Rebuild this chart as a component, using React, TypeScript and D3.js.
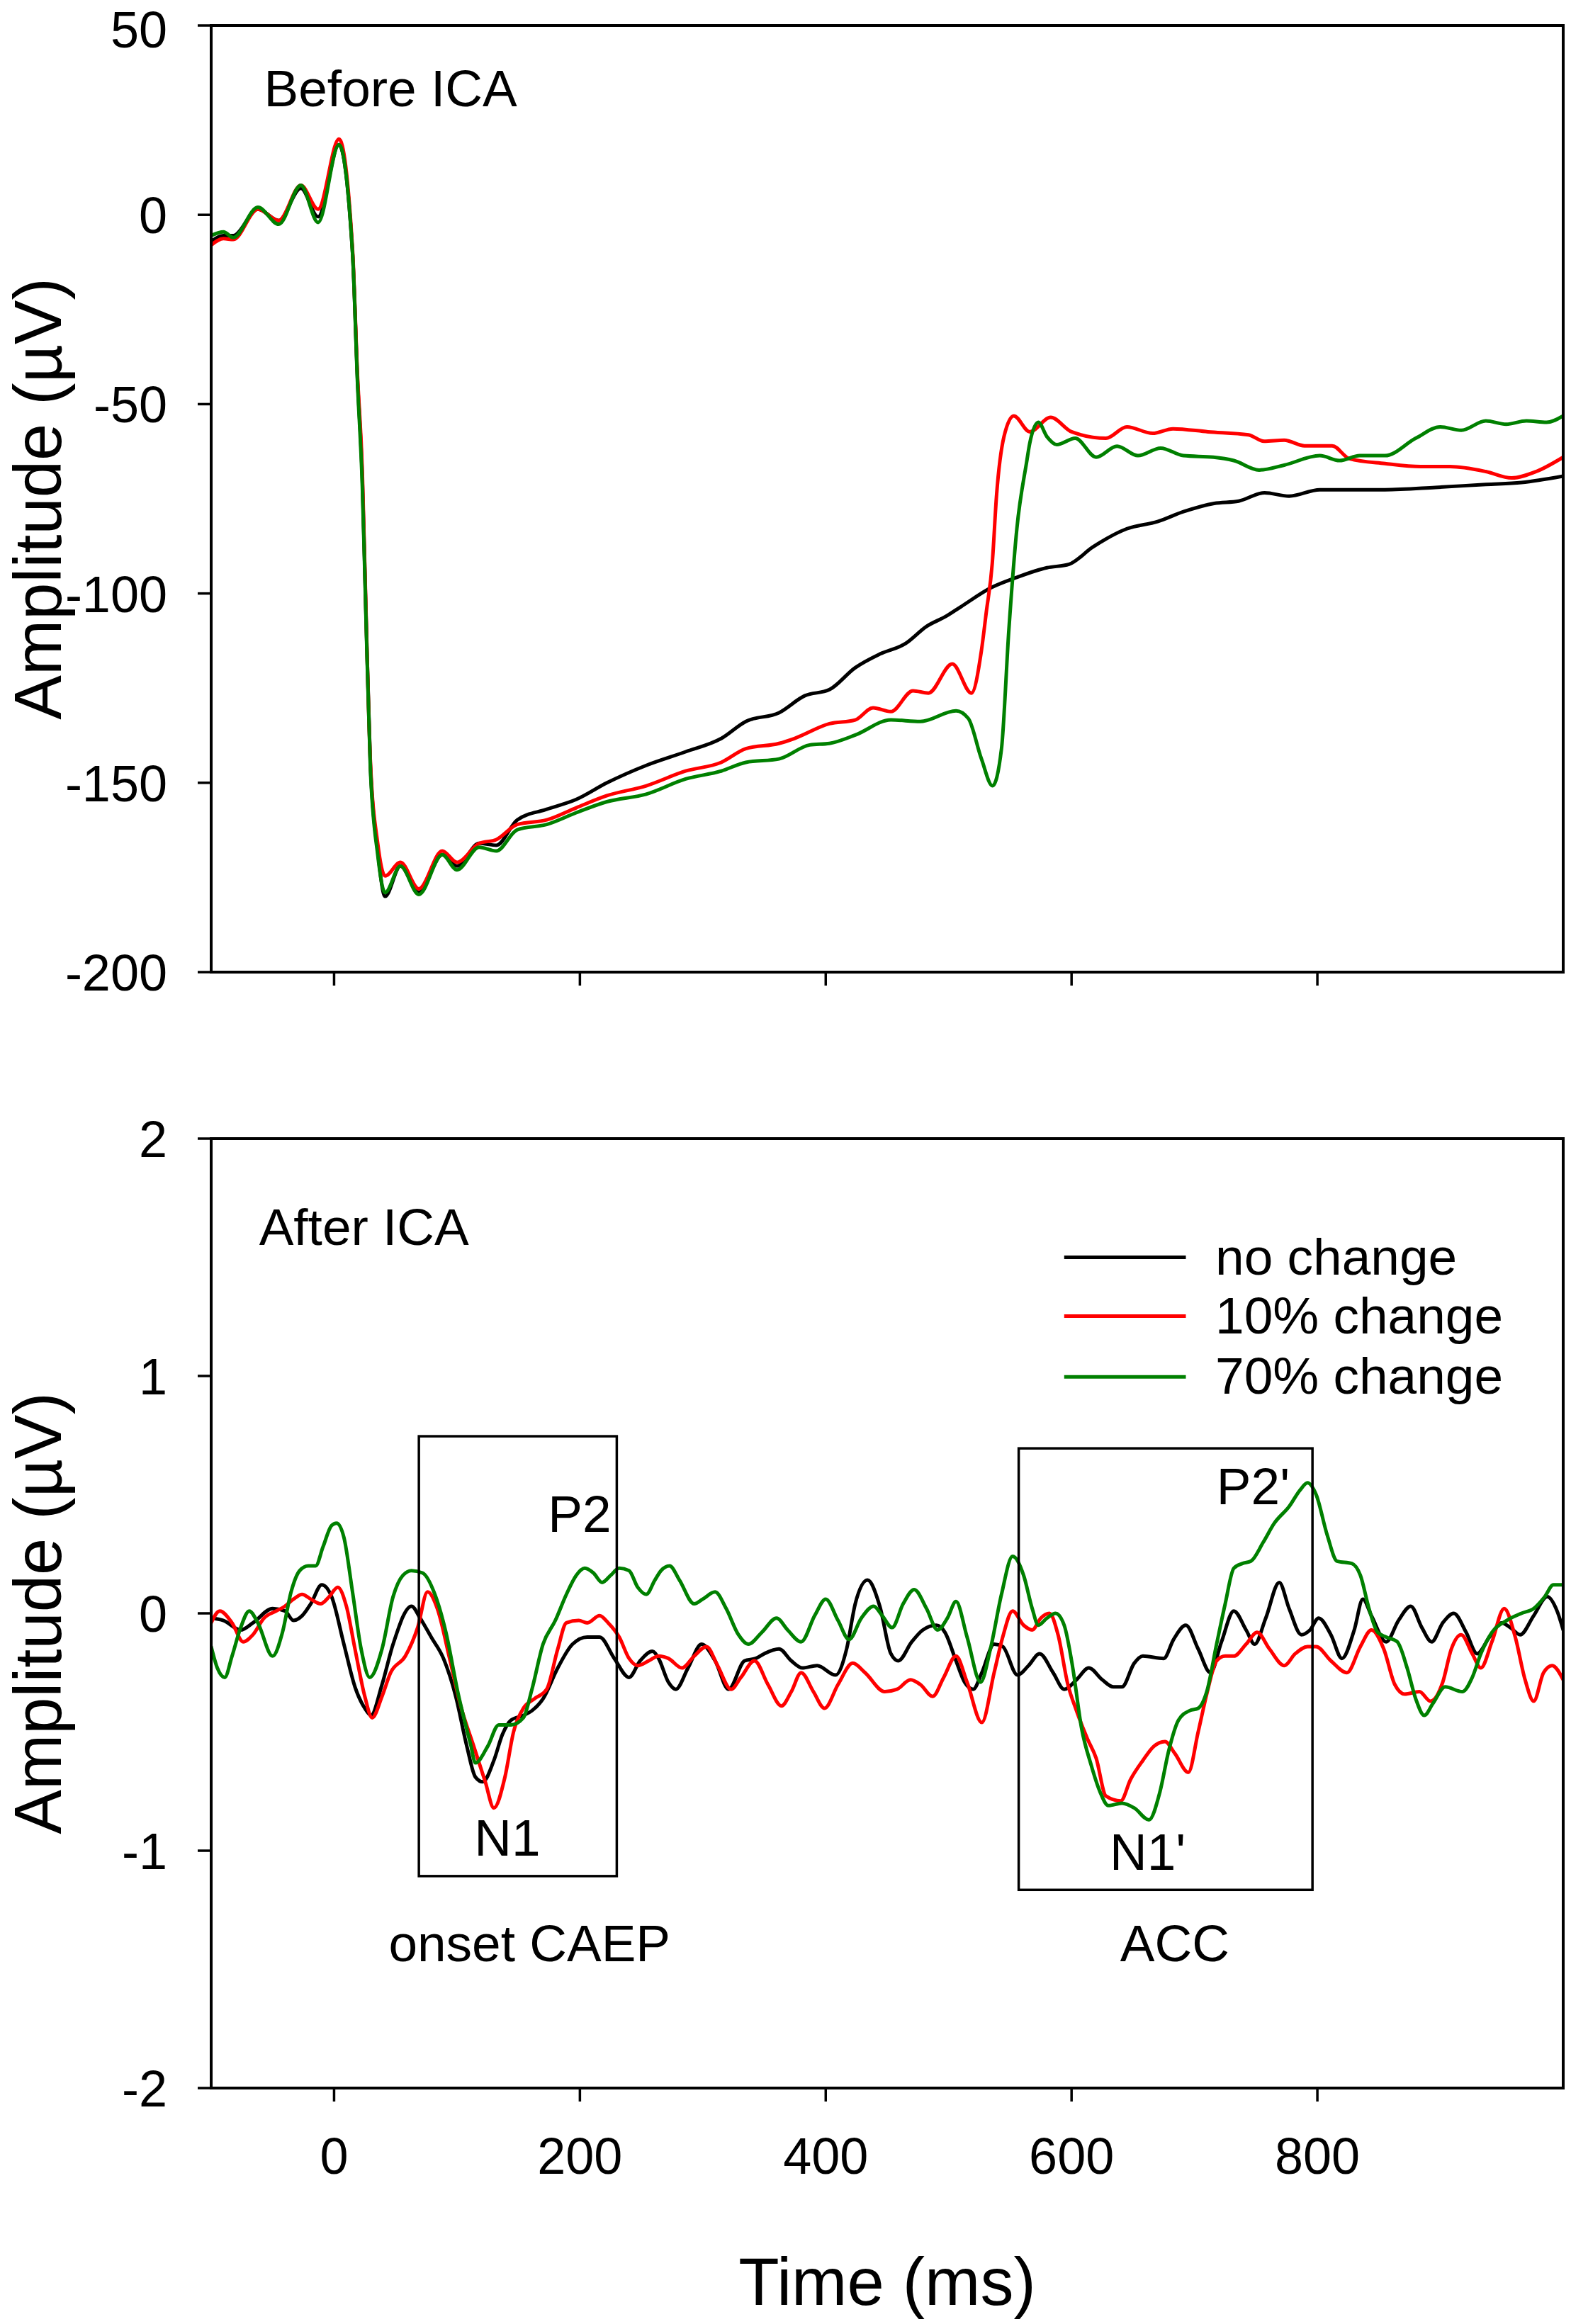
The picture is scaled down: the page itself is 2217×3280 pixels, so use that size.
import React from 'react';
import * as d3 from 'd3';

type Pt = [number, number];

// ---- data: [time (ms), amplitude (µV)] ----
const beforeNoChange: Pt[] = [
  [-100, -7], [-90, -5.5], [-82, -5.5], [-62, 1.5], [-45, -1.5], [-27, 7], [-13, -0.5], [4, 18.5],
  [15, -10], [19, -43], [23, -70], [25.5, -100], [29.5, -145], [35.5, -168], [41.5, -180], [54, -172],
  [69, -179], [88, -169], [100, -172], [118, -166], [132, -166.5], [149, -159.8], [173, -157],
  [197, -154.4], [222, -150], [254, -145.4], [286, -141.8], [315, -138.3], [335, -133.8], [362, -131.5],
  [383, -127], [403, -125.4], [424, -119.6], [444, -116], [465, -113.2], [482, -108.7], [498, -106],
  [510, -103.5], [535, -98.4], [555, -95.8], [580, -93.2], [598, -92.3], [617, -87.8], [645, -82.9],
  [670, -81], [691, -78.4], [716, -76.2], [736, -75.6], [757, -73.4], [777, -74.3], [802, -72.6],
  [855, -72.6], [896, -72], [937, -71.2], [966, -70.7], [1000, -69],
];

const beforeTen: Pt[] = [
  [-100, -8], [-90, -6.3], [-82, -6.5], [-62, 1.5], [-45, -1.5], [-27, 7.8], [-13, 1.5], [4, 20],
  [15, -9], [19, -42], [23, -68], [25.5, -99], [29.5, -144], [35.5, -166], [41.5, -174.6], [54, -171],
  [69, -178], [88, -168], [100, -171], [118, -166], [132, -165], [149, -161], [173, -159.8],
  [197, -156.6], [222, -153.4], [254, -150.8], [286, -146.9], [315, -144.6], [335, -141], [362, -139.6],
  [374.5, -138.3], [403, -134.4], [424, -133.4], [438.5, -130.2], [453, -131.2], [471, -125.7],
  [483.5, -126.3], [503, -118.6], [518.5, -126.3], [526.7, -115], [530.6, -105], [535.5, -92],
  [539, -74], [545, -58.6], [553, -53.1], [566, -57.3], [583, -53.5], [600, -57.3], [628, -59],
  [645, -56], [666, -57.7], [682.5, -56.5], [711, -57.3], [744, -58.1], [756.6, -59.8], [773, -59.5],
  [789.5, -61], [812, -61], [826, -64.4], [855, -65.7], [884, -66.5], [908, -66.5], [937, -67.8],
  [958, -69.5], [978, -67.8], [1000, -64],
];

const beforeSeventy: Pt[] = [
  [-100, -5.5], [-90, -4.5], [-82, -6], [-62, 2], [-45, -2.5], [-27, 7.8], [-13, -2], [4, 18.5],
  [15, -10], [19, -44], [23, -72], [25.5, -101], [29.5, -146], [35.5, -169], [41.5, -179], [54, -172],
  [69, -179.5], [88, -169], [100, -173], [118, -167], [132, -168], [149, -162.4], [173, -161],
  [197, -157.9], [222, -155], [254, -153], [286, -149], [315, -146.9], [335, -144.6], [362, -143.7],
  [387, -140], [403, -139.6], [424, -137.4], [453, -133.4], [477, -133.8], [506, -131], [516, -133],
  [526.7, -143.7], [535.7, -150.8], [543, -141], [549, -109.6], [555.5, -82.9], [563.6, -65],
  [566, -60.3], [573, -54.8], [580, -58.6], [588, -60.7], [603, -59], [620, -64], [637, -61.1],
  [654, -63.6], [672.5, -61.6], [691, -63.6], [715.5, -64], [732, -64.9], [752.6, -67.4], [773, -66.1],
  [802, -63.6], [818, -64.9], [834.5, -63.6], [855, -63.6], [880, -59], [900, -56], [917, -56.9],
  [937, -54.4], [953.6, -55.3], [970, -54.4], [986.5, -54.8], [1000, -53.1],
];

const afterNoChange: Pt[] = [
  [-100, -0.02], [-90, -0.03], [-76, -0.07], [-66, -0.04], [-50, 0.02], [-40, 0.01], [-33, -0.03],
  [-26, -0.01], [-19, 0.04], [-10, 0.12], [-2, 0.07], [8, -0.13], [17, -0.31], [25, -0.40], [30, -0.43],
  [39, -0.30], [48, -0.13], [63, 0.03], [70, -0.02], [79, -0.10], [89, -0.19], [99, -0.35], [108, -0.56],
  [115, -0.69], [121, -0.71], [130, -0.62], [137, -0.51], [144, -0.45], [154, -0.43], [161, -0.41],
  [170, -0.36], [182, -0.23], [194, -0.13], [206, -0.10], [216, -0.10], [228, -0.19], [240, -0.27],
  [249, -0.20], [259, -0.16], [264, -0.19], [272, -0.29], [278, -0.32], [288, -0.23], [299, -0.13],
  [310, -0.20], [321, -0.32], [334, -0.20], [343, -0.19], [350, -0.17], [362, -0.15], [372, -0.20],
  [381, -0.23], [393, -0.22], [408, -0.26], [417, -0.15], [424, 0.04], [434, 0.14], [444, 0.03],
  [453, -0.17], [459, -0.20], [470, -0.12], [479, -0.07], [490, -0.05], [497, -0.08], [506, -0.20],
  [513, -0.29], [520, -0.32], [527, -0.25], [537, -0.13], [544, -0.14], [556, -0.26], [565, -0.22],
  [574, -0.17], [585, -0.25], [594, -0.32], [604, -0.28], [614, -0.23], [625, -0.28], [634, -0.31],
  [641, -0.31], [651, -0.21], [658, -0.18], [675, -0.19], [683, -0.11], [693, -0.05], [703, -0.15],
  [713, -0.25], [722, -0.12], [732, 0.01], [742, -0.07], [749, -0.13], [758, -0.02], [769, 0.13],
  [777, 0.02], [787, -0.09], [794, -0.07], [801, -0.02], [811, -0.09], [820, -0.19], [830, -0.07],
  [837, 0.06], [844, -0.01], [856, -0.12], [866, -0.03], [876, 0.03], [885, -0.06], [893, -0.12],
  [902, -0.04], [911, 0.0], [921, -0.08], [930, -0.17], [940, -0.10], [950, -0.04], [957, -0.06],
  [965, -0.09], [976, -0.01], [987, 0.07], [995, 0.01], [1000, -0.07],
];

const afterTen: Pt[] = [
  [-100, -0.04], [-93, 0.01], [-83, -0.04], [-74, -0.12], [-66, -0.09], [-57, -0.02], [-47, 0.01],
  [-40, 0.03], [-33, 0.06], [-26, 0.08], [-19, 0.06], [-11, 0.04], [-4, 0.07], [3, 0.11], [10, 0.03],
  [17, -0.15], [25, -0.35], [31, -0.44], [39, -0.35], [46, -0.25], [58, -0.18], [68, -0.06], [76, 0.09],
  [84, 0.02], [94, -0.19], [103, -0.39], [113, -0.55], [123, -0.71], [130, -0.82], [139, -0.69],
  [146, -0.50], [154, -0.40], [163, -0.36], [173, -0.32], [182, -0.15], [189, -0.04], [199, -0.03],
  [206, -0.04], [216, -0.01], [223, -0.04], [232, -0.10], [240, -0.19], [247, -0.22], [256, -0.20],
  [264, -0.18], [272, -0.19], [283, -0.23], [293, -0.18], [303, -0.14], [312, -0.22], [323, -0.32],
  [331, -0.27], [342, -0.20], [353, -0.30], [364, -0.39], [372, -0.33], [380, -0.25], [390, -0.33],
  [399, -0.40], [410, -0.30], [422, -0.21], [432, -0.25], [448, -0.33], [458, -0.32], [469, -0.28],
  [477, -0.30], [487, -0.35], [496, -0.27], [506, -0.18], [515, -0.29], [527, -0.46], [537, -0.25],
  [544, -0.10], [552, 0.01], [561, -0.05], [568, -0.07], [575, -0.02], [582, 0.0], [589, -0.09],
  [597, -0.30], [604, -0.41], [613, -0.53], [620, -0.61], [628, -0.77], [640, -0.79], [648, -0.70],
  [658, -0.62], [667, -0.56], [676, -0.54], [684, -0.59], [695, -0.67], [703, -0.50], [710, -0.34],
  [718, -0.20], [725, -0.18], [732, -0.18], [742, -0.13], [751, -0.08], [761, -0.15], [773, -0.22],
  [782, -0.17], [792, -0.14], [799, -0.14], [811, -0.20], [824, -0.25], [835, -0.14], [844, -0.07],
  [854, -0.15], [863, -0.30], [871, -0.34], [883, -0.33], [892, -0.37], [902, -0.29], [909, -0.15],
  [917, -0.09], [926, -0.17], [933, -0.23], [942, -0.12], [952, 0.02], [961, -0.10], [969, -0.28],
  [976, -0.37], [984, -0.25], [991, -0.22], [1000, -0.28],
];

const afterSeventy: Pt[] = [
  [-100, -0.14], [-95, -0.23], [-89, -0.27], [-83, -0.18], [-76, -0.06], [-69, 0.01], [-62, -0.04],
  [-50, -0.18], [-42, -0.08], [-35, 0.09], [-28, 0.18], [-21, 0.20], [-15, 0.20], [-9, 0.28], [-2, 0.37],
  [2, 0.38], [8, 0.32], [15, 0.09], [22, -0.15], [29, -0.27], [39, -0.15], [48, 0.07], [56, 0.16],
  [63, 0.18], [72, 0.17], [82, 0.08], [91, -0.08], [101, -0.34], [111, -0.55], [115, -0.63], [125, -0.56],
  [134, -0.47], [144, -0.47], [154, -0.44], [161, -0.32], [170, -0.13], [180, -0.03], [189, 0.08],
  [197, 0.16], [204, 0.19], [211, 0.17], [218, 0.13], [225, 0.16], [232, 0.19], [240, 0.18], [247, 0.11],
  [254, 0.08], [261, 0.14], [266, 0.18], [273, 0.20], [281, 0.14], [293, 0.04], [300, 0.06], [310, 0.09],
  [319, 0.02], [329, -0.09], [337, -0.13], [348, -0.08], [360, -0.02], [369, -0.07], [380, -0.12],
  [391, -0.01], [400, 0.06], [410, -0.03], [419, -0.11], [429, -0.02], [439, 0.03], [446, -0.01],
  [454, -0.06], [463, 0.04], [472, 0.10], [482, 0.02], [491, -0.07], [499, -0.02], [506, 0.05],
  [515, -0.10], [526, -0.29], [534, -0.15], [543, 0.08], [552, 0.24], [561, 0.16], [568, 0.02],
  [573, -0.05], [580, -0.02], [587, 0.0], [594, -0.05], [601, -0.23], [608, -0.48], [616, -0.64],
  [623, -0.75], [630, -0.81], [641, -0.80], [651, -0.82], [663, -0.87], [672, -0.75], [679, -0.58],
  [687, -0.45], [696, -0.41], [703, -0.40], [710, -0.33], [718, -0.13], [725, 0.04], [732, 0.19],
  [739, 0.21], [746, 0.22], [756, 0.30], [765, 0.38], [777, 0.45], [786, 0.52], [792, 0.55], [799, 0.50],
  [808, 0.33], [816, 0.22], [828, 0.21], [835, 0.16], [842, 0.02], [849, -0.08], [856, -0.10],
  [865, -0.12], [873, -0.23], [880, -0.36], [887, -0.43], [894, -0.38], [904, -0.31], [918, -0.33],
  [926, -0.27], [933, -0.17], [942, -0.08], [954, -0.03], [966, 0.0], [976, 0.02], [985, 0.07],
  [992, 0.12], [1000, 0.12],
];

const seriesNames = ['no change', '10% change', '70% change'];
const seriesColors = ['#000000', '#ff0000', '#008000'];

const timeTicks = [0, 200, 400, 600, 800];
const beforeTicks = [50, 0, -50, -100, -150, -200];
const afterTicks = [2, 1, 0, -1, -2];

// peak windows drawn in the "after" panel: [t0, t1, vTop, vBottom]
const peakBoxes: [number, number, number, number][] = [
  [69, 230, 0.746, -1.107],
  [557, 796, 0.695, -1.165],
];

// labels in the "after" panel: [text, t, v, anchor]
const afterLabels: [string, number, number, string][] = [
  ['After ICA', -61, 1.552, 'start'],
  ['P2', 174, 0.343, 'start'],
  ['N1', 114, -1.021, 'start'],
  ["P2'", 718, 0.46, 'start'],
  ["N1'", 631, -1.08, 'start'],
  ['onset CAEP', 159, -1.466, 'middle'],
  ['ACC', 684, -1.466, 'middle'],
];

const legendRows = [1.5, 1.252, 0.996];

// ---- layout ----
const W = 2217;
const H = 3280;
const left = 298;
const right = 2206;
const FONT = "'Liberation Sans', Arial, Helvetica, sans-serif";

const x = d3.scaleLinear().domain([-100, 1000]).range([left, right]);

interface PanelProps {
  top: number;
  bottom: number;
  domain: [number, number];
  ticks: number[];
  series: Pt[][];
  showXLabels: boolean;
  children?: (y: d3.ScaleLinear<number, number>) => React.ReactNode;
}

const Panel: React.FC<PanelProps> = ({ top, bottom, domain, ticks, series, showXLabels, children }) => {
  const y = d3.scaleLinear().domain(domain).range([bottom, top]);
  const line = d3.line<Pt>()
    .x(d => x(d[0]))
    .y(d => y(d[1]))
    .curve(d3.curveMonotoneX);
  const midY = (top + bottom) / 2;

  return (
    <g>
      <defs>
        <clipPath id={`clip-${top}`}>
          <rect x={left} y={top} width={right - left} height={bottom - top} />
        </clipPath>
      </defs>
      <g clipPath={`url(#clip-${top})`}>
        {series.map((s, i) => (
          <path key={i} d={line(s) || ''} fill="none" stroke={seriesColors[i]}
            strokeWidth={5} strokeLinejoin="round" strokeLinecap="round" />
        ))}
      </g>
      {children && children(y)}
      {/* frame */}
      <rect x={left} y={top} width={right - left} height={bottom - top}
        fill="none" stroke="#000" strokeWidth={4} />
      {/* y ticks */}
      {ticks.map(t => (
        <g key={t}>
          <line x1={left - 19} x2={left} y1={y(t)} y2={y(t)} stroke="#000" strokeWidth={3.5} />
          {/* keep the top label's box inside the page */}
          <text x={236} y={Math.max(y(t), 41)} dy="0.36em" textAnchor="end" fontSize={72} fontFamily={FONT}>
            {String(t)}
          </text>
        </g>
      ))}
      {/* x ticks */}
      {timeTicks.map(t => (
        <g key={t}>
          <line x1={x(t)} x2={x(t)} y1={bottom} y2={bottom + 19} stroke="#000" strokeWidth={3.5} />
          {showXLabels && (
            <text x={x(t)} y={bottom + 121} textAnchor="middle" fontSize={72} fontFamily={FONT}>
              {String(t)}
            </text>
          )}
        </g>
      ))}
      <text transform={`translate(86,${midY}) rotate(-90)`} textAnchor="middle"
        fontSize={94} fontFamily={FONT}>Amplitude (µV)</text>
    </g>
  );
};

export default function App() {
  return (
    <svg width={W} height={H} viewBox={`0 0 ${W} ${H}`}
      style={{ position: 'absolute', left: 0, top: 0, background: '#fff' }}>
      <rect width={W} height={H} fill="#fff" />
      <Panel top={36} bottom={1372} domain={[-200, 50]} ticks={beforeTicks}
        series={[beforeNoChange, beforeTen, beforeSeventy]} showXLabels={false}>
        {y => (
          <text x={x(-57)} y={y(28.6)} fontSize={73} fontFamily={FONT}>Before ICA</text>
        )}
      </Panel>
      <Panel top={1607} bottom={2947} domain={[-2, 2]} ticks={afterTicks}
        series={[afterNoChange, afterTen, afterSeventy]} showXLabels={true}>
        {y => (
          <g>
            {peakBoxes.map(([t0, t1, v0, v1], i) => (
              <rect key={i} x={x(t0)} y={y(v0)} width={x(t1) - x(t0)} height={y(v1) - y(v0)}
                fill="none" stroke="#000" strokeWidth={3.5} />
            ))}
            {afterLabels.map(([txt, t, v, anchor]) => (
              <text key={txt} x={x(t)} y={y(v)} textAnchor={anchor} fontSize={73} fontFamily={FONT}>
                {txt}
              </text>
            ))}
            {seriesNames.map((name, i) => (
              <g key={name}>
                <line x1={x(594)} x2={x(693)} y1={y(legendRows[i])} y2={y(legendRows[i])}
                  stroke={seriesColors[i]} strokeWidth={5} />
                <text x={x(717)} y={y(legendRows[i]) + 24} fontSize={73} fontFamily={FONT}>{name}</text>
              </g>
            ))}
          </g>
        )}
      </Panel>
      <text x={(left + right) / 2} y={3253} textAnchor="middle" fontSize={94} fontFamily={FONT}>
        Time (ms)
      </text>
    </svg>
  );
}
